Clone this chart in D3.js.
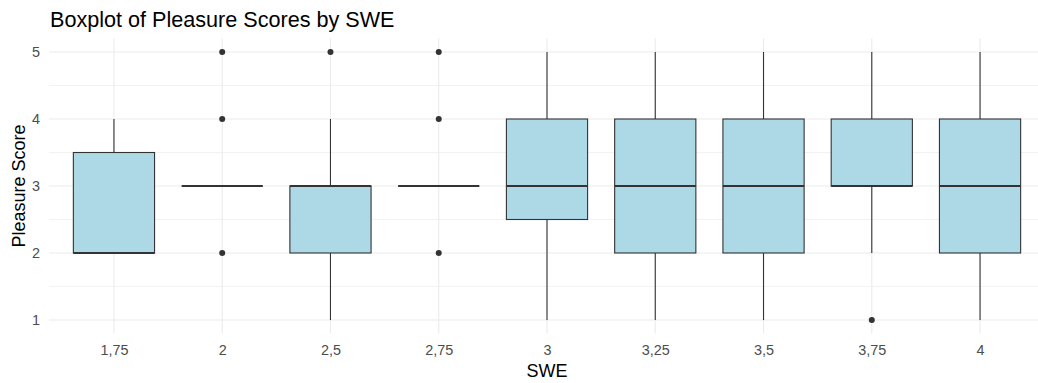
<!DOCTYPE html>
<html>
<head>
<meta charset="utf-8">
<script src="https://cdn.jsdelivr.net/npm/d3@7"></script>
<style>
  html, body { margin: 0; padding: 0; background: #fff; }
  svg { display: block; font-family: "Liberation Sans", Arial, sans-serif; }
</style>
</head>
<body>
<svg id="chart" width="1038" height="383"></svg>
<script>
// SWE groups and their box statistics (Pleasure Score)
const categories = ["1,75", "2", "2,5", "2,75", "3", "3,25", "3,5", "3,75", "4"];
const whiskerLow = [2, 3, 1, 3, 1, 1, 1, 2, 1];
const q1         = [2, 3, 2, 3, 2.5, 2, 2, 3, 2];
const median     = [2, 3, 3, 3, 3, 3, 3, 3, 3];
const q3         = [3.5, 3, 3, 3, 4, 4, 4, 4, 4];
const whiskerHigh= [4, 3, 4, 3, 5, 5, 5, 5, 5];
const outliers   = [[], [2, 4, 5], [5], [2, 4, 5], [], [], [], [1], []];
const yTicks = [1, 2, 3, 4, 5];
const yMinor = [1.5, 2.5, 3.5, 4.5];

const svg = d3.select("#chart");
const panel = { left: 49, right: 1045, top: 38.6, bottom: 333.4 };

// discrete x: 0.6 expansion on each side
const step = (panel.right - panel.left) / (categories.length - 1 + 1.2);
const x = d3.scalePoint()
  .domain(categories)
  .range([panel.left + 0.6 * step, panel.right - 0.6 * step]);
const boxW = 0.75 * step;

const y = d3.scaleLinear().domain([0.8, 5.2]).range([panel.bottom, panel.top]);

const grid = svg.append("g");
grid.selectAll("line.minor").data(yMinor).join("line")
  .attr("x1", panel.left).attr("x2", panel.right)
  .attr("y1", d => y(d)).attr("y2", d => y(d))
  .attr("stroke", "#F0F0F0").attr("stroke-width", 0.9);
grid.selectAll("line.major").data(yTicks).join("line")
  .attr("x1", panel.left).attr("x2", panel.right)
  .attr("y1", d => y(d)).attr("y2", d => y(d))
  .attr("stroke", "#EBEBEB").attr("stroke-width", 1.1);
grid.selectAll("line.vx").data(categories).join("line")
  .attr("x1", d => x(d)).attr("x2", d => x(d))
  .attr("y1", panel.top).attr("y2", panel.bottom)
  .attr("stroke", "#EBEBEB").attr("stroke-width", 1.1);

// axes (labels only, no axis lines)
const yAxis = svg.append("g")
  .attr("transform", `translate(${panel.left},0)`)
  .call(d3.axisLeft(y).tickValues(yTicks).tickSize(0).tickPadding(9).tickFormat(d3.format("d")));
yAxis.select(".domain").remove();
yAxis.selectAll("text").attr("fill", "#4D4D4D").style("font-size", "14.4px");

const xAxis = svg.append("g")
  .attr("transform", `translate(0,${panel.bottom})`)
  .call(d3.axisBottom(x).tickSize(0).tickPadding(11));
xAxis.select(".domain").remove();
xAxis.selectAll("text").attr("fill", "#4D4D4D").style("font-size", "14.4px");

// boxplots
const data = categories.map((c, i) => ({
  c, lo: whiskerLow[i], q1: q1[i], med: median[i], q3: q3[i], hi: whiskerHigh[i], out: outliers[i]
}));
const g = svg.append("g");
const stroke = "#333333";

data.forEach(d => {
  const cx = x(d.c);
  g.append("line").attr("x1", cx).attr("x2", cx)
    .attr("y1", y(d.q3)).attr("y2", y(d.hi))
    .attr("stroke", stroke).attr("stroke-width", 1.1);
  g.append("line").attr("x1", cx).attr("x2", cx)
    .attr("y1", y(d.lo)).attr("y2", y(d.q1))
    .attr("stroke", stroke).attr("stroke-width", 1.1);
  g.append("rect")
    .attr("x", cx - boxW / 2).attr("width", boxW)
    .attr("y", y(d.q3)).attr("height", y(d.q1) - y(d.q3))
    .attr("fill", "#ADD8E6").attr("stroke", stroke).attr("stroke-width", 1.1);
  g.append("line")
    .attr("x1", cx - boxW / 2).attr("x2", cx + boxW / 2)
    .attr("y1", y(d.med)).attr("y2", y(d.med))
    .attr("stroke", stroke).attr("stroke-width", 2.2);
  g.selectAll(null).data(d.out).join("circle")
    .attr("cx", cx).attr("cy", v => y(v)).attr("r", 3)
    .attr("fill", stroke);
});

// titles
svg.append("text").attr("x", panel.left + 1).attr("y", 27)
  .attr("fill", "#000").style("font-size", "21.6px")
  .text("Boxplot of Pleasure Scores by SWE");
svg.append("text")
  .attr("transform", `translate(25,${(panel.top + panel.bottom) / 2}) rotate(-90)`)
  .attr("text-anchor", "middle").attr("fill", "#000").style("font-size", "18px")
  .text("Pleasure Score");
svg.append("text").attr("x", x("3")).attr("y", 377)
  .attr("text-anchor", "middle").attr("fill", "#000").style("font-size", "18px")
  .text("SWE");
</script>
</body>
</html>
